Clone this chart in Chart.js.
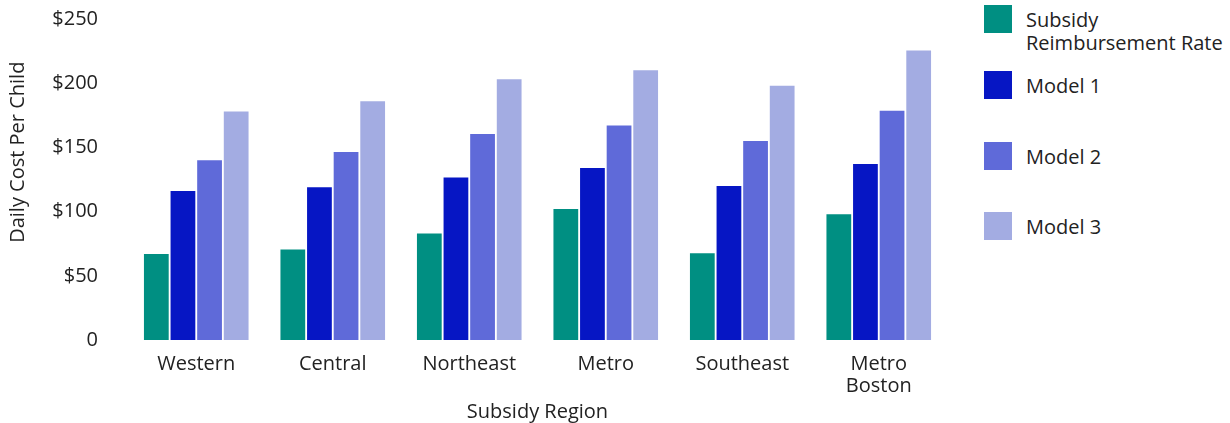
<!DOCTYPE html>
<html>
<head>
<meta charset="utf-8">
<script src="https://cdn.jsdelivr.net/npm/chart.js@4"></script>
<style>
  body { margin: 0; background: #fff; font-family: "Open Sans", sans-serif; }
  #wrap { position: relative; width: 1230px; height: 423px; }
  #box { position: absolute; left: 0; top: 0; width: 960px; height: 423px; }
  #legend { position: absolute; left: 984px; top: 0; color: #222; font-size: 20px; }
  .item { position: absolute; left: 0; display: flex; align-items: flex-start; white-space: nowrap; }
  .sw { width: 28px; height: 28px; margin-right: 14px; flex: none; }
  .lbl { line-height: 23px; margin-top: 3px; }
</style>
</head>
<body>
<div id="wrap">
  <div id="box"><canvas id="chart"></canvas></div>
  <div id="legend"></div>
</div>
<script>
// --- DATA ---
const regions = [['Western'], ['Central'], ['Northeast'], ['Metro'], ['Southeast'], ['Metro', 'Boston']];
const seriesNames = [['Subsidy', 'Reimbursement Rate'], ['Model 1'], ['Model 2'], ['Model 3']];
const subsidyRate = [67, 70.5, 83, 102, 67.5, 98];
const model1 = [116, 119, 126.5, 134, 120, 137];
const model2 = [140, 146.5, 160.5, 167, 155, 178.5];
const model3 = [178, 186, 203, 210, 198, 225.5];
const yTicks = [0, 50, 100, 150, 200, 250];
const yTitle = 'Daily Cost Per Child';
const xTitle = 'Subsidy Region';

const colors = ['#008F82', '#0616C4', '#5F6AD9', '#A3ACE2'];
const values = [subsidyRate, model1, model2, model3];

// --- LEGEND (html, right side) ---
const legendTops = [5, 71, 142, 212];
const legend = document.getElementById('legend');
seriesNames.forEach((name, i) => {
    const it = document.createElement('div');
    it.className = 'item';
    it.style.top = legendTops[i] + 'px';
    it.innerHTML = `<div class="sw" style="background:${colors[i]}"></div><div class="lbl">${name.join('<br>')}</div>`;
    legend.appendChild(it);
});

// y title sits a bit above the plot's middle in the original, so draw it ourselves
const yTitlePlugin = {
    id: 'yTitle',
    afterDraw(chart) {
        const c = chart.ctx, a = chart.chartArea;
        c.save();
        c.translate(18, a.top + (a.bottom - a.top) * 0.415);
        c.rotate(-Math.PI / 2);
        c.font = '20px "Open Sans", sans-serif';
        c.fillStyle = '#222';
        c.textAlign = 'center';
        c.textBaseline = 'middle';
        c.fillText(yTitle, 0, 0);
        c.restore();
    }
};

// --- CHART ---
const font = { family: '"Open Sans", sans-serif', size: 20, lineHeight: 1.1 };
new Chart(document.getElementById('chart'), {
    type: 'bar',
    data: {
        labels: regions,
        datasets: values.map((v, i) => ({
            label: seriesNames[i].join(' '),
            data: v,
            backgroundColor: colors[i],
            barPercentage: 0.93,
            categoryPercentage: 0.78
        }))
    },
    options: {
        responsive: true, maintainAspectRatio: false, animation: false,
        layout: { padding: { top: 19, right: 13, bottom: 0, left: 0 } },
        plugins: { legend: { display: false }, tooltip: { enabled: false } },
        scales: {
            x: {
                grid: { display: false }, border: { display: false },
                ticks: { color: '#222', font: font, padding: 5, maxRotation: 0, autoSkip: false },
                title: { display: true, text: xTitle, color: '#222', font: font, padding: { top: 2, bottom: 0 } },
                afterFit: ax => { ax.height = 83; ax.paddingLeft = 0; ax.paddingRight = 0; }
            },
            y: {
                min: 0, max: 250,
                afterBuildTicks: ax => { ax.ticks = yTicks.map(v => ({ value: v })); },
                grid: { display: false }, border: { display: false },
                ticks: { color: '#222', font: font, padding: 22, callback: v => v === 0 ? '0' : '$' + v },
                afterFit: ax => { ax.width = 128; ax.paddingTop = 0; ax.paddingBottom = 0; }
            }
        }
    },
    plugins: [yTitlePlugin]
});
</script>
</body>
</html>
